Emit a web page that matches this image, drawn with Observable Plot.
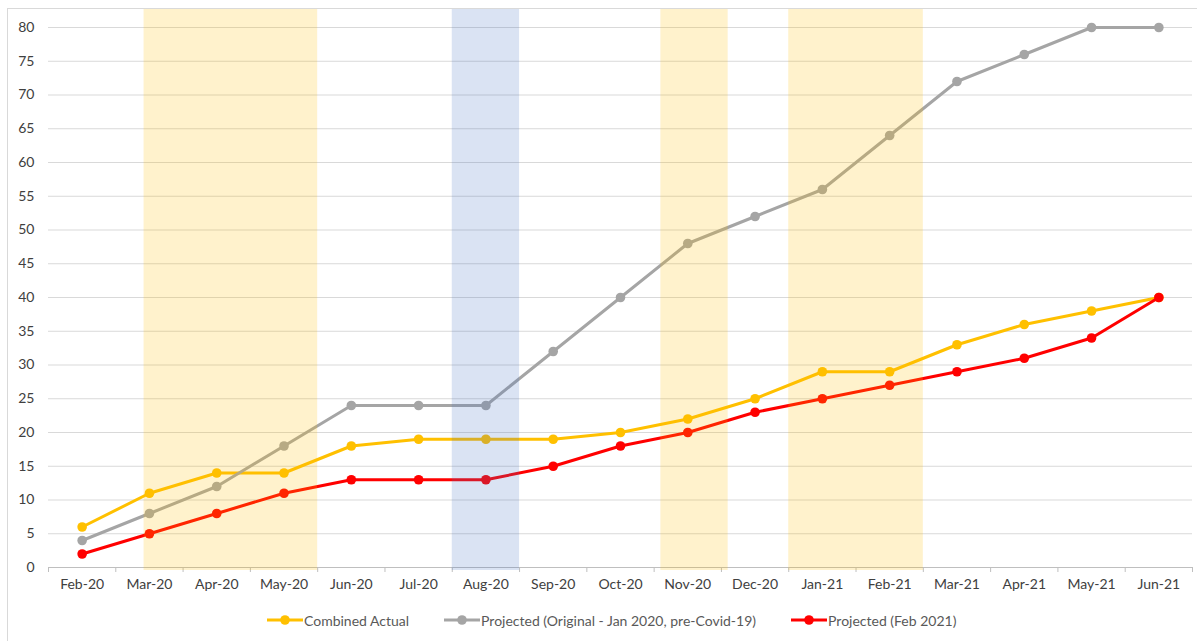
<!DOCTYPE html>
<html>
<head>
<meta charset="utf-8">
<script src="https://cdn.jsdelivr.net/npm/d3@7"></script>
<script src="https://cdn.jsdelivr.net/npm/@observablehq/plot@0.6"></script>
<style>
  html, body { margin: 0; padding: 0; background: #fff; overflow: hidden; }
  body { width: 1197px; height: 641px; position: relative; font-family: Lato, "Open Sans", sans-serif; }
  #frame { position: absolute; left: 7px; top: 8px; width: 1200px; height: 640px; border: 1px solid #d9d9d9; box-sizing: border-box; pointer-events: none; }
  #chart { position: absolute; left: 0; top: 0; }
  #legend { position: absolute; left: 0; top: 608px; width: 1197px; height: 24px; display: flex; align-items: center; padding-left: 267px; box-sizing: border-box; font-size: 14px; color: #595959; }
  .item { display: flex; align-items: center; margin-right: 35px; }
  .item svg { margin-right: 1px; }
</style>
</head>
<body>
<div id="chart"></div>
<div id="legend"></div>
<div id="frame"></div>
<script>
const months = ["Feb-20","Mar-20","Apr-20","May-20","Jun-20","Jul-20","Aug-20","Sep-20","Oct-20","Nov-20","Dec-20","Jan-21","Feb-21","Mar-21","Apr-21","May-21","Jun-21"];
const seriesNames = ["Combined Actual", "Projected (Original - Jan 2020, pre-Covid-19)", "Projected (Feb 2021)"];
const seriesColors = ["#FFC000", "#A5A5A5", "#FF0000"];
const combinedActual = [6, 11, 14, 14, 18, 19, 19, 19, 20, 22, 25, 29, 29, 33, 36, 38, 40];
const projectedOriginal = [4, 8, 12, 18, 24, 24, 24, 32, 40, 48, 52, 56, 64, 72, 76, 80, 80];
const projectedFeb2021 = [2, 5, 8, 11, 13, 13, 13, 15, 18, 20, 23, 25, 27, 29, 31, 34, 40];
// shaded periods, in month-index units (0 = Feb-20)
const bandStart = [0.92, 5.5, 8.6, 10.5];
const bandEnd = [3.5, 6.5, 9.6, 12.5];
const bandKind = ["lockdown", "summer", "lockdown", "lockdown"];
const bandColors = {lockdown: "#FFC000", summer: "#4472C4"};
const yTicks = d3.range(0, 81, 5);

const allValues = [combinedActual, projectedOriginal, projectedFeb2021];
const rows = [];
allValues.forEach((vals, s) => vals.forEach((v, i) => rows.push({series: seriesNames[s], i, v, color: seriesColors[s]})));
const bands = bandStart.map((s, k) => ({start: s, end: bandEnd[k], color: bandColors[bandKind[k]]}));

const idx = months.map((_, i) => i);
const edges = d3.range(-0.5, months.length, 1);

const marks = [
  Plot.gridY(yTicks.filter(d => d > 0), {stroke: "#d9d9d9", strokeOpacity: 1, strokeWidth: 1}),
  Plot.ruleY([0], {stroke: "#bfbfbf", strokeWidth: 1}),
  Plot.axisY({ticks: yTicks, tickSize: 0, tickPadding: 14, fontSize: 14, fill: "#404040", label: null}),
  Plot.axisX({ticks: edges, tickSize: 5, tickFormat: () => "", stroke: "#bfbfbf", label: null}),
  Plot.axisX({ticks: idx, tickSize: 0, tickPadding: 12, tickFormat: d => months[d], fontSize: 14, fill: "#404040", label: null})
];
seriesNames.forEach((name, s) => {
  const d = rows.filter(r => r.series === name);
  marks.push(Plot.line(d, {x: "i", y: "v", stroke: seriesColors[s], strokeWidth: 3}));
  marks.push(Plot.dot(d, {x: "i", y: "v", fill: seriesColors[s], r: 4.8, stroke: "none"}));
});
marks.push(Plot.rect(bands, {x1: "start", x2: "end", fill: "color", fillOpacity: 0.2, insetBottom: -3}));

const chart = Plot.plot({
  width: 1197,
  height: 600,
  marginLeft: 48,
  marginRight: 5,
  marginTop: 8,
  marginBottom: 33,
  style: {fontFamily: "Lato, 'Open Sans', sans-serif", fontSize: "14px", background: "transparent"},
  x: {type: "linear", domain: [-0.5, months.length - 0.5], label: null},
  y: {domain: [0, 80], range: [567, 27], label: null},
  marks
});
document.getElementById("chart").appendChild(chart);

const legend = document.getElementById("legend");
seriesNames.forEach((name, s) => {
  const item = document.createElement("div");
  item.className = "item";
  item.innerHTML = `<svg width="36" height="12"><line x1="0" x2="36" y1="6" y2="6" stroke="${seriesColors[s]}" stroke-width="3"/><circle cx="18" cy="6" r="4.8" fill="${seriesColors[s]}"/></svg><span>${name}</span>`;
  legend.appendChild(item);
});
</script>
</body>
</html>
